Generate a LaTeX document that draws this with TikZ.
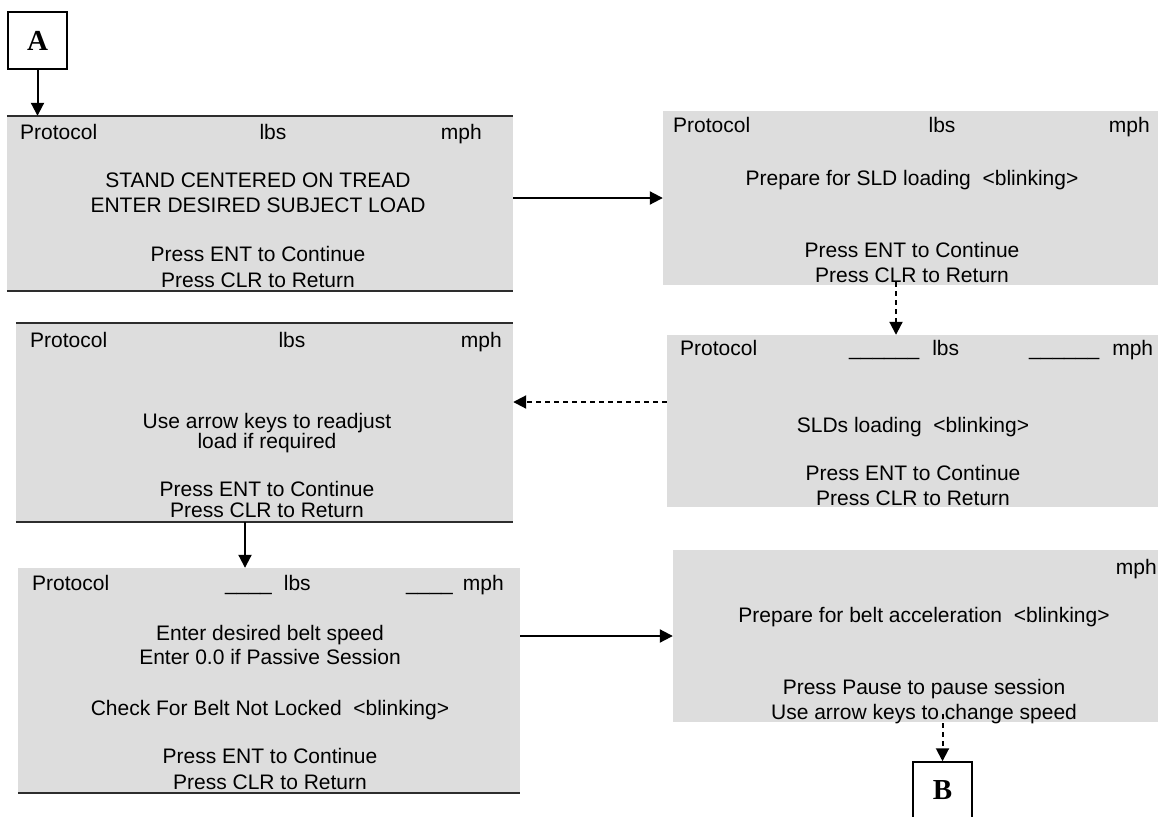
\documentclass[tikz,border=0pt]{standalone}
\usepackage{fontspec}
\setmainfont{Liberation Sans}
\newfontfamily\boxfont{Liberation Serif}
\usetikzlibrary{arrows.meta,calc}
\definecolor{lcd}{RGB}{221,221,221}
\definecolor{rulegray}{RGB}{45,45,45}
\tikzset{>={Triangle[length=13pt,width=13pt]},every node/.style={font=\fontsize{21}{25}\selectfont},
screen/.style={fill=lcd,inner sep=0pt},txt/.style={inner sep=0pt,text height=15pt,text depth=0pt},
flow/.style={line width=2pt,->},jump/.style={flow,dash pattern=on 5pt off 4pt},rule/.style={line width=2pt,draw=rulegray},
tag/.style={draw,line width=1.5pt,minimum width=59pt,minimum height=57pt,inner sep=0pt,font=\boxfont\bfseries\fontsize{29}{29}\selectfont}}
\begin{document}
\begin{tikzpicture}[x=1pt,y=-1pt]
\clip (0,0) rectangle (1158,816);
\node[tag] (A) at (37.5,40.5){A};\node[tag] (B) at (942.5,790.5){B};
\node[screen,minimum width=506pt,minimum height=175pt] (s1) at (260,203.5){};
\node[screen,minimum width=495pt,minimum height=174pt] (s2) at (910.5,198){};
\node[screen,minimum width=491pt,minimum height=172pt] (s3) at (912.5,421){};
\node[screen,minimum width=497pt,minimum height=199pt] (s4) at (264.5,422.5){};
\node[screen,minimum width=502pt,minimum height=225pt] (s5) at (269,680.5){};
\node[screen,minimum width=485pt,minimum height=172pt] (s6) at (915.5,636){};
\draw[rule] (s1.north west)--(s1.north east) (s1.south west)--(s1.south east);
\draw[rule] (s4.north west)--(s4.north east) (s4.south west)--(s4.south east);
\draw[rule] (s5.south west)--(s5.south east);
\node[txt,anchor=west] (p1) at (20,132){Protocol};\node[txt] (l1) at (273,132){lbs};\node[txt,anchor=east] (m1) at (482,132){mph};
\foreach \t/\y [count=\i] in {STAND CENTERED ON TREAD/180,ENTER DESIRED SUBJECT LOAD/205,Press ENT to Continue/254,Press CLR to Return/280}
  \node[txt] (s1t\i) at (258,\y){\t};
\node[txt,anchor=west] (p2) at (673,125){Protocol};\node[txt] (l2) at (942,125){lbs};\node[txt,anchor=east] (m2) at (1150,125){mph};
\foreach \t/\y [count=\i] in {Prepare for SLD loading\ \ <blinking>/178,Press ENT to Continue/250,Press CLR to Return/275}
  \node[txt] (s2t\i) at (912,\y){\t};
\node[txt,anchor=west] (p3) at (680,348){Protocol};\node[txt,anchor=west] (l3) at (849,348){\_\_\_\_\_\_\hspace{13pt}lbs};
\node[txt,anchor=west] (m3) at (1029,348){\_\_\_\_\_\_\hspace{13pt}mph};
\foreach \t/\y [count=\i] in {SLDs loading\ \ <blinking>/425,Press ENT to Continue/473,Press CLR to Return/498}
  \node[txt] (s3t\i) at (913,\y){\t};
\node[txt,anchor=west] (p4) at (30,340){Protocol};\node[txt] (l4) at (292,340){lbs};\node[txt,anchor=east] (m4) at (502,340){mph};
\foreach \t/\y [count=\i] in {Use arrow keys to readjust/421,load if required/441,Press ENT to Continue/489,Press CLR to Return/510}
  \node[txt] (s4t\i) at (267,\y){\t};
\node[txt,anchor=west] (p5) at (32,583){Protocol};\node[txt,anchor=west] (l5) at (225,583){\_\_\_\_\hspace{12pt}lbs};
\node[txt,anchor=west] (m5) at (406,583){\_\_\_\_\hspace{10pt}mph};
\foreach \t/\y [count=\i] in {Enter desired belt speed/633,Enter 0.0 if Passive Session/657,Check For Belt Not Locked\ \ <blinking>/708,Press ENT to Continue/756,Press CLR to Return/782}
  \node[txt] (s5t\i) at (270,\y){\t};
\node[txt,anchor=east] (m6) at (1157,567){mph};
\foreach \t/\y [count=\i] in {Prepare for belt acceleration\ \ <blinking>/615,Press Pause to pause session/687,Use arrow keys to change speed/712}
  \node[txt] (s6t\i) at (924,\y){\t};
\draw[flow] (A.south)--(A.south |- s1.north);
\draw[flow] (s1.east |- s2.west)--(s2.west);
\coordinate (d1) at ($(s2.south)+(-14.5,-3)$);\draw[jump] (d1)--(d1 |- s3.north);
\coordinate (d2) at ($(s3.west)+(0,-19)$);\draw[jump] (d2)--(d2 -| s4.east);
\coordinate (d3) at ($(s4.south)+(-19.5,0)$);\draw[flow] (d3)--(d3 |- s5.north);
\draw[flow] (s5.east |- s6.west)--(s6.west);
\coordinate (d4) at ($(s6.south -| B.north)+(0,-8)$);\draw[jump] (d4)--(B.north);
\end{tikzpicture}
\end{document}
